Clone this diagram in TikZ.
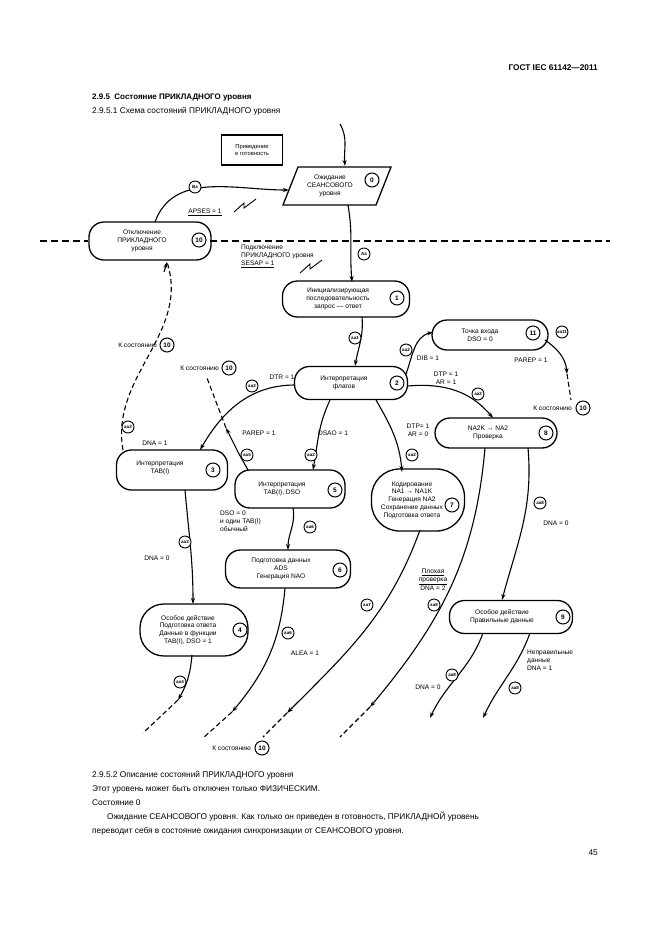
\documentclass[tikz,border=0pt]{standalone}
\usepackage{fontspec}
\setmainfont{Liberation Sans}
\usetikzlibrary{arrows.meta}
\begin{document}
\begin{tikzpicture}[x=1pt,y=-1pt,
 st/.style={draw, line width=1.3pt, rounded corners=#1},
 st/.default=15pt,
 tx/.style={align=center, font=\fontsize{6.6}{7.8}\selectfont, inner sep=0pt},
 txl/.style={align=left, font=\fontsize{6.6}{7.8}\selectfont, inner sep=0pt},
 num/.style={circle, draw, line width=1pt, minimum size=14pt, inner sep=0pt, fill=white, font=\fontsize{6.5}{7}\selectfont\bfseries},
 lab/.style={circle, draw, line width=0.9pt, minimum size=12pt, inner sep=0pt, fill=white, font=\fontsize{4.5}{5}\selectfont\bfseries},
 tr/.style={line width=1.1pt, -{Stealth[length=6pt,width=4pt]}},
 trn/.style={line width=1.1pt},
 dsh/.style={line width=1.1pt, dash pattern=on 5pt off 3pt},
 bt/.style={font=\fontsize{8.3}{10}\selectfont, inner sep=0pt, anchor=west}]
\useasboundingbox (0,0) rectangle (661,935);
% header and body texts
\node[font=\fontsize{8.3}{10}\selectfont\bfseries, anchor=east, inner sep=0] (hdr) at (598,68) {ГОСТ IEC 61142—2011};
\node[bt, font=\fontsize{8}{10}\selectfont\bfseries] (h1) at (92,98) {2.9.5 \ Состояние ПРИКЛАДНОГО уровня};
\node[bt] (h2) at (92,111) {2.9.5.1 Схема состояний ПРИКЛАДНОГО уровня};
\node[bt] (b1) at (92,775) {2.9.5.2 Описание состояний ПРИКЛАДНОГО уровня};
\node[bt] (b2) at (92,789) {Этот уровень может быть отключен только ФИЗИЧЕСКИМ.};
\node[bt] (b3) at (92,803) {Состояние 0};
\node[bt] (b4) at (107,817) {Ожидание СЕАНСОВОГО уровня. Как только он приведен в готовность, ПРИКЛАДНОЙ уровень};
\node[bt] (b5) at (92,831) {переводит себя в состояние ожидания синхронизации от СЕАНСОВОГО уровня.};
\node[bt, anchor=east] (pg) at (598,853) {45};

% dashed separator
\coordinate (d1) at (40,241); \coordinate (d2) at (88,241);
\coordinate (d3) at (210,241); \coordinate (d4) at (610,241);
\draw[dsh, line width=1.3pt, dash pattern=on 7pt off 4pt] (d1) -- (d2) (d3) -- (d4);

% start box
\node[draw, line width=1.4pt, minimum width=61pt, minimum height=30pt, tx, font=\fontsize{5.8}{6.8}\selectfont] (pr) at (252,150) {Приведение\\в готовность};

% state 0 parallelogram
\node[minimum width=92pt, minimum height=38pt] (s0) at (337,186) {};
\draw[line width=1.3pt] (298,167) -- (391,167) -- (376,205) -- (283,205) -- cycle;
\node[tx] (t0) at (330,186) {Ожидание\\СЕАНСОВОГО\\уровня};
\node[num] (n0) at (372,180) {0};

% states
\node[st, minimum width=122pt, minimum height=38pt] (s10) at (150,241) {};
\node[tx] (t10) at (142,241) {Отключение\\ПРИКЛАДНОГО\\уровня};
\node[num] (n10) at (199,240) {10};

\node[st, minimum width=127pt, minimum height=36pt] (s1) at (346,299) {};
\node[tx] (t1) at (338,299) {Инициализирующая\\последовательность\\запрос — ответ};
\node[num] (n1) at (397,298) {1};

\node[st, minimum width=113pt, minimum height=33pt] (s2) at (351,383) {};
\node[tx] (t2) at (344,383) {Интерпретация\\флагов};
\node[num] (n2) at (397,383) {2};

\node[st, minimum width=116pt, minimum height=30pt] (s11) at (490,335) {};
\node[tx] (t11) at (480,335) {Точка входа\\DSO = 0};
\node[num] (n11) at (533,333) {11};

\node[st, minimum width=122pt, minimum height=30pt] (s8) at (496,433) {};
\node[tx] (t8) at (488,433) {NA2K → NA2\\Проверка};
\node[num] (n8) at (546,433) {8};

\node[st, minimum width=111pt, minimum height=40pt] (s3) at (172,470) {};
\node[tx] (t3) at (160,468) {Интерпретация\\TAB(I)};
\node[num] (n3) at (213,470) {3};

\node[st, minimum width=110pt, minimum height=38pt] (s5) at (290,489) {};
\node[tx] (t5) at (282,489) {Интерпретация\\TAB(I), DSO};
\node[num] (n5) at (335,490) {5};

\node[st=28pt, minimum width=93pt, minimum height=62pt] (s7) at (418,500) {};
\node[tx] (t7) at (412,500) {Кодирование\\NA1 → NA1K\\Генерация NA2\\Сохранение данных\\Подготовка ответа};
\node[num] (n7) at (452,505) {7};

\node[st, minimum width=125pt, minimum height=38pt] (s6) at (288,569) {};
\node[tx] (t6) at (281,569) {Подготовка данных\\ADS\\Генерация NAO};
\node[num] (n6) at (340,570) {6};

\node[st=24pt, minimum width=108pt, minimum height=52pt] (s4) at (194,630) {};
\node[tx] (t4) at (188,630) {Особое действие\\Подготовка ответа\\Данные в функции\\TAB(I), DSO = 1};
\node[num] (n4) at (240,630) {4};

\node[st, minimum width=123pt, minimum height=33pt] (s9) at (511,617) {};
\node[tx] (t9) at (502,617) {Особое действие\\Правильные данные};
\node[num] (n9) at (563,617) {9};

% transitions
\coordinate (e0) at (340,124);
\draw[tr] (e0) to[out=-60,in=95] (345,166);
\draw[tr] (155,222) to[out=70,in=180] (289,190);
\draw[tr] (348,205) to[out=-80,in=95] (352,282);
\draw[tr] (362,317) to[out=-85,in=80] (355,366);
\draw[tr] (406,374) to[out=70,in=195] (433,332);
\draw[tr] (408,386) to[out=5,in=130] (493,418);
\draw[tr] (295,385) to[out=180,in=60] (200,450);
\draw[tr] (330,400) to[out=-115,in=80] (313,470);
\draw[tr] (376,400) to[out=-60,in=95] (402,472);
\draw[tr] (293,508) to[out=-80,in=90] (288,550);
\draw[tr] (185,490) to[out=-85,in=90] (193,604);
\draw[tr] (528,448) to[out=-85,in=75] (502,600);
\draw[tr] (483,633) to[out=-110,in=65] (430,718);
\draw[tr] (530,633) to[out=-110,in=65] (483,718);

% s11 -> К10
\coordinate (a11) at (567,374); \coordinate (k11) at (571,400);
\draw[tr] (545,340) to[out=-35,in=95] (a11);
\draw[dsh] (a11) -- (k11);
\node[txl, anchor=east] (kt1) at (572,408) {К состоянию};
\node[num] (kn1) at (583,408) {10};

% s3 -> s10 dashed
\coordinate (a3) at (167,262);
\draw[dsh] (123,450) to[out=100,in=-72] (a3);
\draw[tr] (164,272) -- (a3);
\node[txl, anchor=east] (kt2) at (157,345) {К состоянию};
\node[num] (kn2) at (167,345) {10};

% s5 -> К10 dashed
\coordinate (k5) at (207,378); \coordinate (a5) at (226,428);
\draw[trn] (248,470) -- (238,452);
\draw[tr] (238,452) -- (a5);
\draw[dsh] (a5) -- (k5);
\node[txl, anchor=east] (kt3) at (219,368) {К состоянию};
\node[num] (kn3) at (229,368) {10};

% outgoing to state 10 (bottom)
\coordinate (a4) at (178,700); \coordinate (z4) at (143,733);
\draw[tr] (192,655) to[out=-95,in=60] (a4); \draw[dsh] (a4) -- (z4);
\coordinate (a6) at (232,712); \coordinate (z6) at (203,738);
\draw[tr] (285,588) to[out=-95,in=50] (a6); \draw[dsh] (a6) -- (z6);
\coordinate (a7) at (287,713); \coordinate (z7) at (263,737);
\draw[tr] (420,530) to[out=-110,in=45] (a7); \draw[dsh] (a7) -- (z7);
\coordinate (a8) at (370,707); \coordinate (z8) at (340,737);
\draw[tr] (485,448) to[out=-95,in=50] (a8); \draw[dsh] (a8) -- (z8);
\node[txl, anchor=east] (kt4) at (251,748) {К состоянию};
\node[num] (kn4) at (262,748) {10};

% labels on transitions
\node[lab] (lBa) at (195,187) {Ba};
\node[lab] (lAa) at (364,254) {Aa};
\node[lab] (l1) at (355,338) {aa1};
\node[lab] (l2a) at (406,350) {aa2};
\node[lab] (l2b) at (478,394) {aa2};
\node[lab] (l2c) at (252,386) {aa2};
\node[lab] (l2d) at (311,455) {aa2};
\node[lab] (l2e) at (412,455) {aa2};
\node[lab] (l11) at (562,332) {aa11};
\node[lab] (l3a) at (128,427) {aa3};
\node[lab] (l5) at (247,455) {aa5};
\node[lab] (l6a) at (310,527) {aa6};
\node[lab] (l3b) at (185,542) {aa3};
\node[lab] (l8a) at (540,503) {aa8};
\node[lab] (l7) at (367,605) {aa7};
\node[lab] (l8b) at (434,605) {aa8};
\node[lab] (l6b) at (288,633) {aa6};
\node[lab] (l4) at (180,682) {aa4};
\node[lab] (l8c) at (452,675) {aa8};
\node[lab] (l8d) at (515,688) {aa8};

% text labels
\node[tx] (apses) at (205,212) {\underline{APSES = 1}};
\draw[line width=0.9pt] (234,212) -- (244,203) -- (244,208) -- (256,199);
\node[txl, anchor=north west] (podk) at (241,245) {Подключение\\ПРИКЛАДНОГО уровня\\\underline{SESAP = 1}};
\draw[line width=0.9pt] (300,273) -- (310,264) -- (310,269) -- (322,260);
\node[tx] (dib) at (428,358) {DIB = 1};
\node[tx] (parep1) at (531,360) {PAREP = 1};
\node[tx] (dtp1) at (446,378) {DTP = 1\\AR = 1};
\node[tx] (dtr) at (282,377) {DTR = 1};
\node[tx] (dna1) at (155,443) {DNA = 1};
\node[tx] (parep2) at (259,433) {PAREP = 1};
\node[tx] (dsao) at (333,433) {DSAO = 1};
\node[tx] (dtp0) at (418,430) {DTP= 1\\AR = 0};
\node[txl, anchor=north west] (dso0) at (220,511) {DSO = 0\\и один TAB(I)\\обычный};
\node[tx] (dna0a) at (157,558) {DNA = 0};
\node[tx] (dna0b) at (556,523) {DNA = 0};
\node[tx] (plox) at (433,580) {\underline{Плохая}\\\underline{проверка}\\DNA = 2};
\node[tx] (alea) at (305,653) {ALEA = 1};
\node[tx] (dna0c) at (428,687) {DNA = 0};
\node[txl, anchor=north west] (nepr) at (527,650) {Неправильные\\данные\\DNA = 1};
\end{tikzpicture}
\end{document}
